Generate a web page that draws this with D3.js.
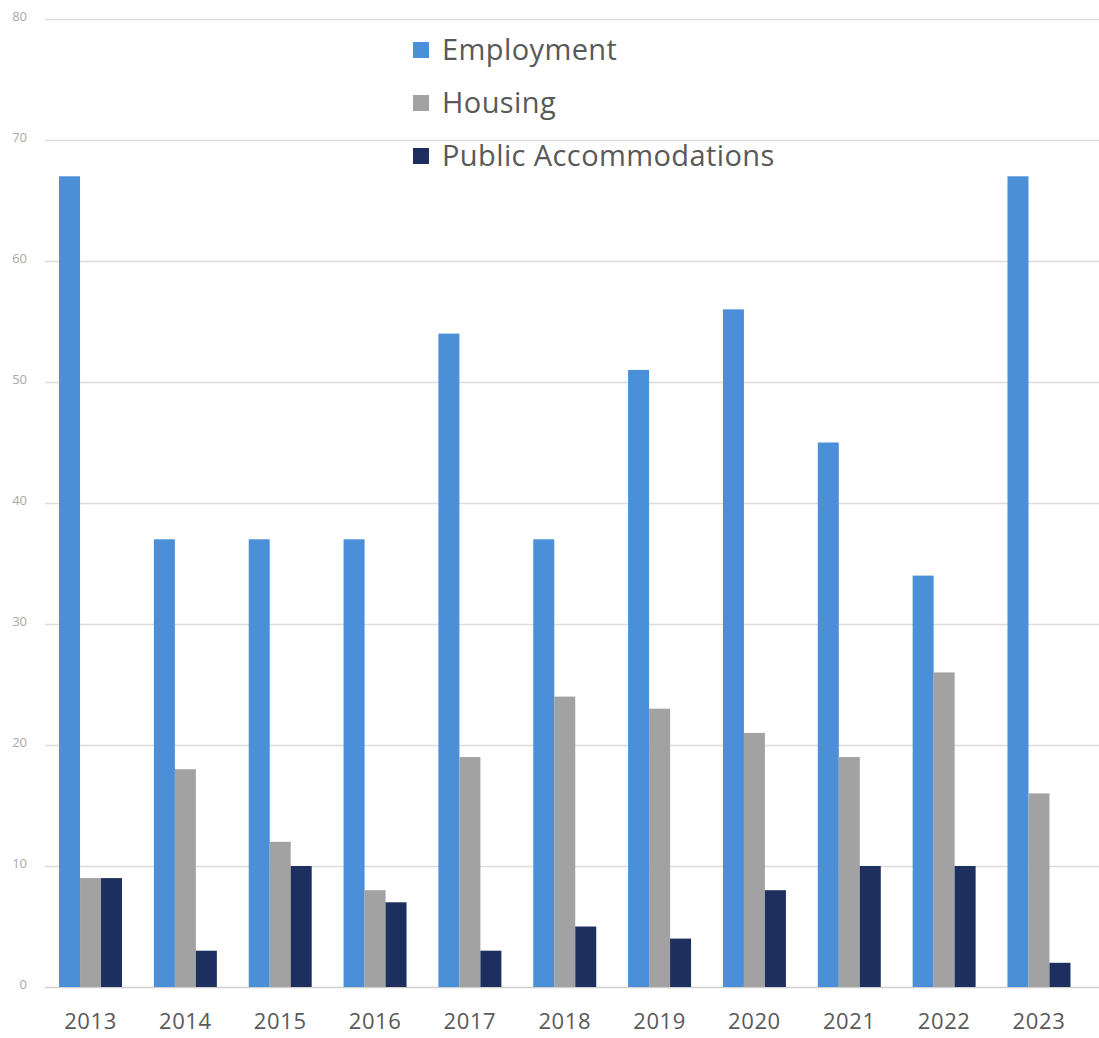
<!DOCTYPE html>
<html>
<head>
<meta charset="utf-8">
<script src="https://cdn.jsdelivr.net/npm/d3@7/dist/d3.min.js"></script>
<style>
  html, body { margin: 0; padding: 0; background: #ffffff; }
  svg { display: block; }
</style>
</head>
<body>
<div id="chart"></div>
<script>
// Complaints filed per year, by category
const years = ["2013", "2014", "2015", "2016", "2017", "2018", "2019", "2020", "2021", "2022", "2023"];
const seriesNames = ["Employment", "Housing", "Public Accommodations"];
const employment = [67, 37, 37, 37, 54, 37, 51, 56, 45, 34, 67];
const housing = [9, 18, 12, 8, 19, 24, 23, 21, 19, 26, 16];
const publicAccommodations = [9, 3, 10, 7, 3, 5, 4, 8, 10, 10, 2];
const yTicks = [0, 10, 20, 30, 40, 50, 60, 70, 80];
const seriesColors = ["#4a8fd8", "#a2a2a2", "#1d2f5f"];

const seriesValues = [employment, housing, publicAccommodations];
const rows = years.map((yr, i) => ({
  year: yr,
  values: seriesNames.map((name, s) => ({ name, value: seriesValues[s][i] }))
}));

const W = 1099, H = 1038;
const plotLeft = 45, plotRight = 1099, plotTop = 19, plotBottom = 987;

const svg = d3.select("#chart").append("svg")
  .attr("width", W).attr("height", H);

const x = d3.scaleBand()
  .domain(years)
  .range([plotLeft, 1084.5])
  .paddingInner(0.336)
  .paddingOuter(0.148);

const xInner = d3.scaleBand()
  .domain(seriesNames)
  .range([0, x.bandwidth()])
  .padding(0);

const y = d3.scaleLinear().domain([0, 80]).range([plotBottom, plotTop]);
const color = d3.scaleOrdinal().domain(seriesNames).range(seriesColors);

// Horizontal gridlines with small grey value labels
const yAxis = svg.append("g")
  .attr("transform", `translate(${plotLeft},0)`)
  .call(d3.axisLeft(y).tickValues(yTicks).tickSize(-(plotRight - plotLeft)).tickPadding(18));
yAxis.select(".domain").remove();
yAxis.selectAll(".tick line").attr("stroke", "#dcdcdc").attr("stroke-width", 1.3);
yAxis.selectAll(".tick text")
  .attr("fill", "#a8a8a8")
  .attr("dy", "0.1em")
  .style("font-family", "'Open Sans', sans-serif")
  .style("font-size", "13px");
yAxis.selectAll(".tick").filter(d => d === 0).select("line").attr("stroke", "#d0d0d0");

// Bars
const groups = svg.append("g").selectAll("g")
  .data(rows)
  .join("g")
  .attr("transform", d => `translate(${x(d.year)},0)`);

groups.selectAll("rect")
  .data(d => d.values)
  .join("rect")
  .attr("x", d => xInner(d.name))
  .attr("y", d => y(d.value))
  .attr("width", xInner.bandwidth())
  .attr("height", d => y(0) - y(d.value))
  .attr("fill", d => color(d.name));

// Year labels
const xAxis = svg.append("g")
  .attr("transform", `translate(0,${plotBottom})`)
  .call(d3.axisBottom(x).tickSize(0).tickPadding(26));
xAxis.select(".domain").remove();
xAxis.selectAll(".tick text")
  .attr("fill", "#595959")
  .style("font-family", "'Open Sans', sans-serif")
  .style("font-size", "22px")
  .style("letter-spacing", "0.6px");

// Legend
const legend = svg.append("g").attr("transform", "translate(413,50)");
const items = legend.selectAll("g")
  .data(seriesNames)
  .join("g")
  .attr("transform", (d, i) => `translate(0,${i * 53})`);
items.append("rect")
  .attr("x", 0).attr("y", -8)
  .attr("width", 16).attr("height", 16)
  .attr("fill", d => color(d));
items.append("text")
  .attr("x", 29)
  .attr("dy", "0.35em")
  .attr("fill", "#595959")
  .style("font-family", "'Open Sans', sans-serif")
  .style("font-size", "29px")
  .style("letter-spacing", "0.4px")
  .text(d => d);
</script>
</body>
</html>
